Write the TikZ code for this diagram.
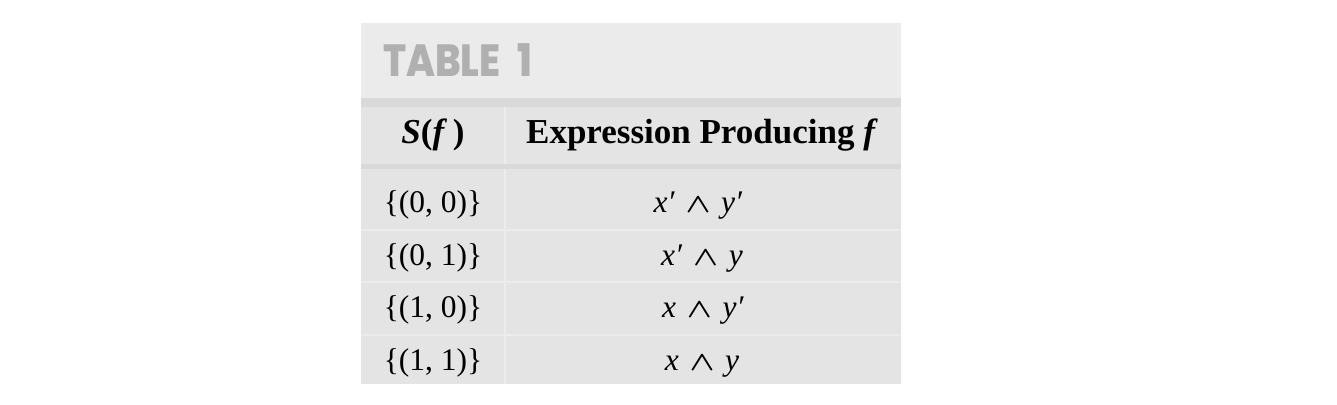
\documentclass[tikz,border=0pt]{standalone}
\usepackage{fontspec}
\setmainfont{Liberation Serif}
\newfontfamily\titlefont{Poppins ExtraBold}
\definecolor{titlebg}{HTML}{EBEBEB}
\definecolor{bandbg}{HTML}{D9D9D9}
\definecolor{cellbg}{HTML}{E4E4E4}
\definecolor{rulecol}{HTML}{ECECEC}
\definecolor{titletext}{HTML}{B0B0B0}
\tikzset{
  cellrule/.style={draw=rulecol, line width=1.2pt},
  headtext/.style={anchor=base, inner sep=0pt, font=\fontsize{35}{40}\selectfont\bfseries},
  bodytext/.style={anchor=base, inner sep=0pt, font=\fontsize{31.5}{36}\selectfont},
  titletxt/.style={anchor=base west, inner sep=0pt, text=titletext, font=\fontsize{45}{50}\selectfont\titlefont}
}
\newcommand{\gap}{\hspace{0.34em}}
\newcommand{\andop}{\resizebox{25pt}{15pt}{\boldmath$\wedge$}}
\begin{document}
\begin{tikzpicture}[x=1pt,y=-1pt]
\useasboundingbox (0,0) rectangle (1337,404);
\fill[white] (0,0) rectangle (1337,404);
\fill[titlebg] (361,23) rectangle (901,98);
\fill[bandbg] (361,98) rectangle (901,107);
\fill[cellbg] (361,107) rectangle (901,164);
\fill[bandbg] (361,164) rectangle (901,169);
\fill[cellbg] (361,169) rectangle (901,384);
\path[cellrule] (505,107) -- (505,164);
\path[cellrule] (505,169) -- (505,384);
\path[cellrule] (361,230) -- (901,230);
\path[cellrule] (361,282) -- (901,282);
\path[cellrule] (361,335) -- (901,335);

\node[titletxt] (title) at (383,77) {\scalebox{0.85}[1]{TABLE}\hspace{17pt}\scalebox{0.85}[1]{1}};

\node[headtext] (h1) at (433,143) {\textit{S}(\textit{f}\,)};
\node[headtext] (h2) at (702,143) {Expression Producing \textit{f}};

\node[bodytext] (a1) at (433,212) {\{(0, 0)\}};
\node[bodytext] (b1) at (698,212) {\textit{x′}\gap\andop\gap\textit{y′}};
\node[bodytext] (a2) at (702,265) {\textit{x′}\gap\andop\gap\textit{y}};
\node[bodytext] (a2l) at (433,265) {\{(0, 1)\}};
\node[bodytext] (a3) at (433,317.5) {\{(1, 0)\}};
\node[bodytext] (b3) at (703,317.5) {\textit{x}\gap\andop\gap\textit{y′}};
\node[bodytext] (a4) at (433,370) {\{(1, 1)\}};
\node[bodytext] (b4) at (702,370) {\textit{x}\gap\andop\gap\textit{y}};
\end{tikzpicture}
\end{document}
